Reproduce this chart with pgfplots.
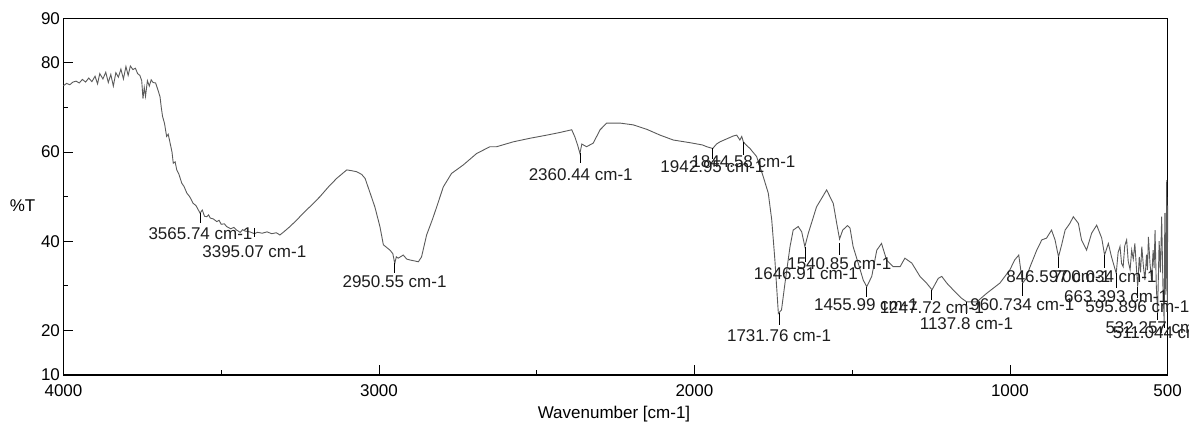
\documentclass[border=0pt]{standalone}
\usepackage{pgfplots}
\usepackage{pgfplotstable}
\pgfplotsset{compat=1.18}
\usepackage{fontspec}
\setmainfont{Liberation Sans}
\newcommand\lab{\fontsize{17}{20}\selectfont}
\definecolor{curve}{RGB}{90,90,90}

\pgfplotstableread{
x y
4000 74.9
3990 75.4
3980 75.1
3970 75.7
3960 75.9
3950 75.5
3940 76.3
3930 75.7
3920 76.6
3910 75.8
3900 77.0
3892 75.3
3885 77.6
3875 76.4
3866 77.9
3858 75.6
3850 77.4
3842 74.8
3834 77.8
3826 76.8
3818 78.6
3810 76.4
3802 79.2
3795 77.2
3788 79.3
3780 78.5
3772 78.8
3765 77.6
3758 77.2
3752 76.0
3748 72.0
3744 74.5
3740 72.5
3734 76.0
3728 74.8
3722 76.2
3716 75.6
3708 75.5
3700 73.8
3694 72.4
3690 70.0
3686 68.0
3680 66.5
3673 63.5
3668 64.0
3662 62.0
3656 60.0
3652 57.5
3646 57.8
3641 56.0
3634 55.0
3625 53.0
3618 52.3
3609 50.8
3600 50.0
3589 48.5
3580 48.0
3574 47.2
3567 46.3
3560 47.0
3553 45.6
3546 45.5
3540 45.9
3535 45.2
3525 45.0
3514 44.4
3507 44.7
3500 43.8
3490 43.9
3483 43.3
3470 42.8
3460 43.1
3451 42.5
3440 42.0
3432 42.6
3425 42.3
3409 42.1
3395 41.7
3385 42.0
3370 41.8
3355 42.1
3340 41.7
3325 41.9
3314 41.4
3300 42.2
3282 43.3
3260 44.8
3240 46.3
3215 48.0
3187 50.0
3160 52.2
3134 54.1
3102 56.0
3085 55.8
3071 55.6
3055 55.0
3044 54.1
3028 50.8
3013 47.7
2997 43.3
2986 39.2
2965 38.0
2956 37.2
2950 35.0
2945 36.5
2939 36.2
2923 36.9
2912 36.0
2902 35.8
2875 35.4
2865 36.5
2849 41.4
2830 45.0
2817 47.7
2796 52.2
2770 55.2
2733 57.1
2690 59.7
2648 61.2
2627 61.2
2574 62.3
2521 63.1
2468 63.8
2426 64.4
2389 65.0
2379 63.4
2370 61.5
2363 59.7
2357 61.8
2352 61.6
2342 61.2
2321 62.0
2299 65.0
2278 66.5
2236 66.5
2194 66.1
2151 65.1
2109 63.8
2067 62.7
2014 62.1
1975 61.6
1961 61.2
1942 60.8
1930 61.8
1919 62.3
1877 63.6
1866 63.8
1856 62.7
1850 63.5
1845 62.3
1835 61.5
1824 60.8
1803 59.0
1782 54.5
1766 50.8
1755 44.8
1745 35.8
1734 23.8
1724 24.6
1713 30.6
1697 38.8
1687 42.5
1671 43.3
1660 42.1
1650 38.8
1639 41.8
1613 47.7
1581 51.5
1560 48.5
1549 44.0
1540 40.5
1530 42.5
1515 43.5
1507 43.0
1497 38.8
1481 35.1
1465 31.3
1454 29.8
1438 32.1
1422 38.0
1407 39.5
1391 35.8
1370 34.3
1348 34.3
1333 36.2
1311 35.1
1285 32.1
1264 30.6
1247 29.1
1227 31.7
1216 32.1
1200 30.6
1180 29.1
1153 27.2
1137 26.4
1105 26.4
1074 28.3
1032 30.6
1000 33.6
985 35.8
972 36.9
960 30.6
950 31.5
936 34.3
915 38.0
899 40.3
884 40.7
868 42.5
857 40.3
846 36.5
836 39.2
825 42.5
810 44.0
799 45.5
783 44.0
773 40.3
757 38.0
741 41.8
725 43.6
709 40.7
700 36.9
688 39.5
678 36.5
663 32.8
657 37.5
651 38.8
646 35.0
641 34.3
636 39.0
630 40.3
625 35.5
619 33.6
614 38.0
609 36.0
604 39.5
599 34.0
595 29.8
590 36.5
586 33.0
582 38.8
577 34.5
572 31.3
567 37.0
564 33.5
561 41.0
556 35.0
551 31.3
546 38.0
543 34.0
540 42.5
536 30.0
532 23.8
527 40.0
523 33.0
519 45.5
515 30.0
511 21.6
509 46.3
506 28.0
503 53.7
501 25.0
500 48.0
}\spectrum

\pgfplotstableread{
x y
3565.74 46.3
3565.74 44.1
3565.74 nan
3395.07 43.0
3395.07 40.9
3395.07 nan
2950.55 35.1
2950.55 32.9
2950.55 nan
2360.44 59.8
2360.44 57.5
2360.44 nan
1942.95 60.9
1942.95 58.4
1942.95 nan
1844.58 62.3
1844.58 59.3
1844.58 nan
1731.76 23.9
1731.76 21.2
1731.76 nan
1646.91 38.7
1646.91 35.3
1646.91 nan
1540.85 39.6
1540.85 36.9
1540.85 nan
1455.99 29.7
1455.99 27.5
1455.99 nan
1247.72 29.1
1247.72 26.8
1247.72 nan
1137.8 26.4
1137.8 23.7
1137.8 nan
960.734 30.6
960.734 27.7
960.734 nan
846.597 36.5
846.597 34.0
846.597 nan
700.034 36.9
700.034 34.0
700.034 nan
663.393 32.9
663.393 29.5
663.393 nan
595.896 29.7
595.896 27.3
595.896 nan
532.257 23.9
532.257 22.3
532.257 nan
511.044 21.7
511.044 20.5
}\peakticks

\pgfplotstableread{
x y lab
3565.74 41.62 {3565.74 cm-1}
3395.07 37.59 {3395.07 cm-1}
2950.55 30.93 {2950.55 cm-1}
2360.44 54.85 {2360.44 cm-1}
1942.95 56.72 {1942.95 cm-1}
1844.58 57.84 {1844.58 cm-1}
1731.76 18.75 {1731.76 cm-1}
1646.91 32.81 {1646.91 cm-1}
1540.85 34.89 {1540.85 cm-1}
1455.99 25.85 {1455.99 cm-1}
1247.72 25.10 {1247.72 cm-1}
1137.8 21.59 {1137.8 cm-1}
960.734 25.85 {960.734 cm-1}
846.597 32.05 {846.597 cm-1}
700.034 32.05 {700.034 cm-1}
663.393 27.56 {663.393 cm-1}
595.896 25.32 {595.896 cm-1}
532.257 20.60 {532.257 cm-1}
511.044 19.50 {511.044 cm-1}
}\peaklabels

\begin{document}
\begin{tikzpicture}
\useasboundingbox (0,0) rectangle (1189pt,422pt);
\begin{axis}[
  at={(63.5pt,47pt)}, anchor=south west,
  scale only axis, width=1104.2pt, height=356.7pt,
  x dir=reverse, xmin=500, xmax=4000, ymin=10, ymax=90,
  clip=false,
  axis line style={black, line width=1.2pt},
  tick align=inside, tick pos=left,
  major tick length=10pt, minor tick length=5pt,
  every tick/.style={black, line width=0.8pt},
  xtick={500,1000,2000,3000,4000},
  xticklabels={500,1000,2000,3000,4000},
  minor xtick={1500,2500,3500},
  ytick={10,20,40,60,80,90},
  yticklabels={10,20,40,60,80,90},
  minor ytick={30,50,70},
  tick label style={font=\lab, text=black},
  xticklabel style={yshift=-6pt},
  xlabel={Wavenumber [cm-1]},
  ylabel={\%T},
  every axis x label/.style={at={(axis description cs:0.4986,-0.1214)}, anchor=base},
  every axis y label/.style={at={(axis description cs:-0.0371,0.457)}, anchor=base},
  label style={font=\lab, text=black},
]
\addplot[curve, line width=0.9pt, mark=none] table[x=x, y=y] {\spectrum};
\addplot[black, line width=0.8pt, mark=none, unbounded coords=jump] table[x=x, y=y] {\peakticks};
\addplot[draw=none, mark=none, nodes near coords, point meta=explicit symbolic,
  every node near coord/.append style={anchor=center, font=\lab, text={rgb,255:red,30;green,30;blue,30}, inner sep=0pt}]
  table[x=x, y=y, meta=lab] {\peaklabels};
\end{axis}
\end{tikzpicture}
\end{document}
